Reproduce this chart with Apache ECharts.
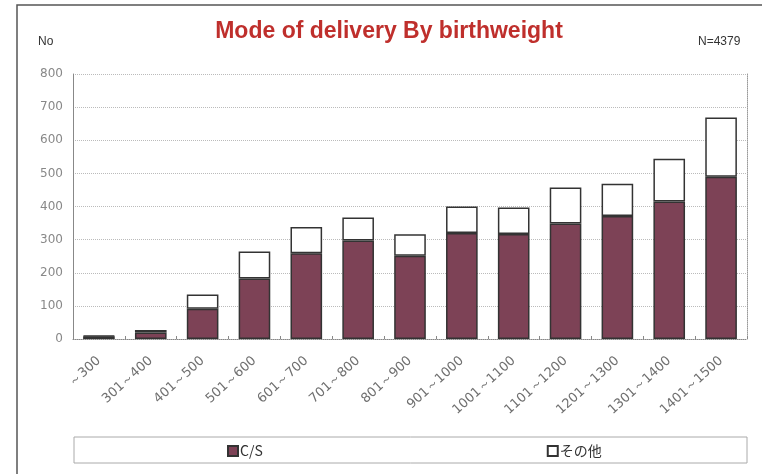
<!DOCTYPE html>
<html>
<head>
<meta charset="utf-8">
<script src="https://cdn.jsdelivr.net/npm/echarts@6/dist/echarts.min.js"></script>
<style>
  html, body { margin: 0; padding: 0; background: #fff; }
  #main { width: 762px; height: 474px; }
</style>
</head>
<body>
<div id="main"></div>
<script>
  // 出生体重別 分娩様式
  const categories = ['～300', '301～400', '401～500', '501～600', '601～700', '701～800', '801～900',
    '901～1000', '1001～1100', '1101～1200', '1201～1300', '1301～1400', '1401～1500'];
  const csValues = [8, 20, 91, 183, 259, 297, 251, 320, 317, 349, 371, 415, 490];
  const otherValues = [2, 7, 43, 81, 79, 70, 65, 80, 80, 108, 98, 129, 179];
  const yTicks = { min: 0, max: 800, interval: 100 };

  let myChart = echarts.init(document.getElementById('main'));
  let option = {
    backgroundColor: '#fff',
    animation: false,
    title: {
      text: 'Mode of delivery By birthweight',
      left: 384,
      textAlign: 'center',
      top: 15,
      textStyle: {
        color: '#bf2f2c',
        fontFamily: 'Liberation Sans',
        fontWeight: 'bold',
        fontSize: 23
      }
    },
    graphic: [
      { type: 'rect', shape: { x: 17, y: 5, width: 900, height: 600 }, style: { fill: 'none', stroke: '#555', lineWidth: 1.5 } },
      { type: 'text', left: 38, top: 36, style: { text: 'No', fill: '#333', font: '12px "Liberation Sans"' } },
      { type: 'text', left: 698, top: 36, style: { text: 'N=4379', fill: '#333', font: '12px "Liberation Sans"' } },
      { type: 'rect', shape: { x: 74, y: 437, width: 673, height: 26 }, style: { fill: '#fff', stroke: '#aaa', lineWidth: 1 } }
    ],
    legend: {
      left: 222,
      top: 439,
      itemGap: 284,
      itemWidth: 10,
      itemHeight: 10,
      icon: 'rect',
      textStyle: { color: '#333', fontSize: 14, fontFamily: 'Noto Sans CJK JP', padding: [0, 0, 0, -3] },
      data: ['C/S', 'その他']
    },
    grid: { left: 73, right: 15, top: 74, bottom: 135 },
    xAxis: {
      type: 'category',
      data: categories,
      axisLine: { lineStyle: { color: '#888', type: 'dotted' } },
      axisTick: { show: true, inside: true, length: 3, lineStyle: { color: '#888' } },
      axisLabel: {
        rotate: 42,
        interval: 0,
        margin: 20,
        color: '#707070',
        fontSize: 13,
        fontFamily: 'DejaVu Sans'
      }
    },
    yAxis: [{
      type: 'value',
      min: yTicks.min,
      max: yTicks.max,
      interval: yTicks.interval,
      axisLine: { show: true, lineStyle: { color: '#888' } },
      axisTick: { show: false },
      axisLabel: { color: '#888', fontSize: 12, fontFamily: 'DejaVu Sans', margin: 10 },
      splitLine: { lineStyle: { color: '#bbb', type: 'dotted' } }
    }, {
      type: 'value',
      position: 'right',
      min: yTicks.min,
      max: yTicks.max,
      interval: yTicks.interval,
      axisLine: { show: true, lineStyle: { color: '#999', type: 'dotted' } },
      axisTick: { show: false },
      axisLabel: { show: false },
      splitLine: { show: false }
    }],
    series: [{
      name: 'C/S',
      type: 'bar',
      stack: 'total',
      barWidth: '61%',
      data: csValues,
      itemStyle: { color: '#7d4256', borderColor: '#333', borderWidth: 1.5 }
    }, {
      name: 'その他',
      type: 'bar',
      stack: 'total',
      data: otherValues,
      itemStyle: { color: '#fff', borderColor: '#333', borderWidth: 1.5 }
    }]
  };
  myChart.setOption(option);
</script>
</body>
</html>
